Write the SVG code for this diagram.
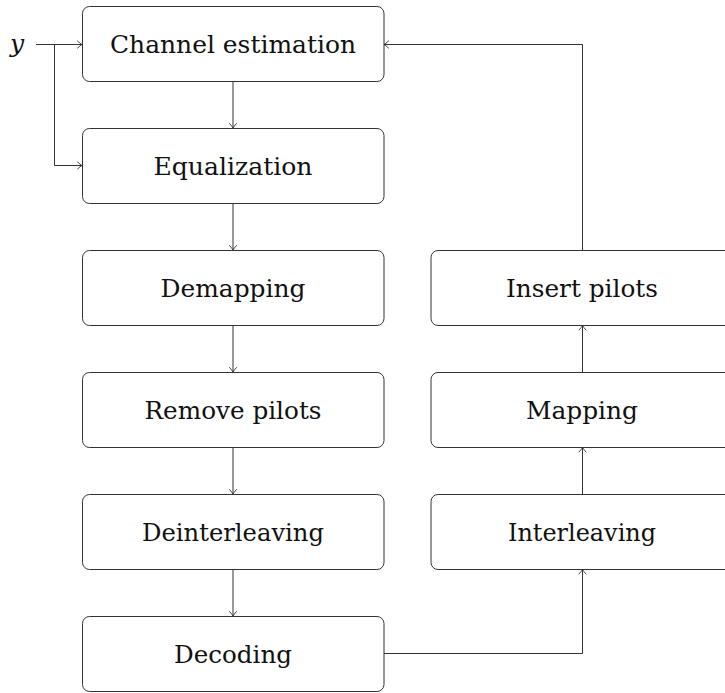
<svg xmlns="http://www.w3.org/2000/svg" width="725" height="693" viewBox="0 0 725 693">
<style>
.box{fill:#fff;stroke:#333;stroke-width:1}
.lbl{font-size:24.5px;fill:#111;text-anchor:middle}
.ity{font-size:25px;font-style:italic;fill:#111}
.con{fill:none;stroke:#333;stroke-width:1}
</style>
<defs>
<marker id="arr" markerUnits="userSpaceOnUse" markerWidth="10" markerHeight="10" viewBox="-6 -5 8 10" refX="0" refY="0" orient="auto">
<path d="M-4.5 -3.5 Q-1.5 -0.8 0 0 Q-1.5 0.8 -4.5 3.5" fill="none" stroke="#333" stroke-width="0.9" stroke-linecap="round"/>
</marker>
</defs>
<rect width="725" height="693" fill="#fff"/>
<g id="connectors">
<path class="con" d="M36 44.5 H82" marker-end="url(#arr)"/>
<path class="con" d="M54.5 44.5 V165.5 H82" marker-end="url(#arr)"/>
<path class="con" d="M233 81.5 V128" marker-end="url(#arr)"/>
<path class="con" d="M233 203.5 V250" marker-end="url(#arr)"/>
<path class="con" d="M233 325.5 V372" marker-end="url(#arr)"/>
<path class="con" d="M233 447.5 V494" marker-end="url(#arr)"/>
<path class="con" d="M233 569.5 V616" marker-end="url(#arr)"/>
<path class="con" d="M384 653.5 H582.5 V569.5" marker-end="url(#arr)"/>
<path class="con" d="M582.5 494 V447.5" marker-end="url(#arr)"/>
<path class="con" d="M582.5 372 V325.5" marker-end="url(#arr)"/>
<path class="con" d="M582.5 250 V44.5 H384" marker-end="url(#arr)"/>
</g>
<g font-family="DejaVu Serif, serif">
<g id="input">
<text class="ity" x="10" y="52">y</text>
</g>
<g id="channel-estimation">
<rect class="box" x="82.5" y="6.5" width="301.5" height="75" rx="7"/>
<text class="lbl" x="233" y="52.5" textLength="246" lengthAdjust="spacingAndGlyphs">Channel estimation</text>
</g>
<g id="equalization">
<rect class="box" x="82.5" y="128.5" width="301.5" height="75" rx="7"/>
<text class="lbl" x="233" y="174.5" textLength="159" lengthAdjust="spacingAndGlyphs">Equalization</text>
</g>
<g id="demapping">
<rect class="box" x="82.5" y="250.5" width="301.5" height="75" rx="7"/>
<text class="lbl" x="233" y="296.5" textLength="145" lengthAdjust="spacingAndGlyphs">Demapping</text>
</g>
<g id="remove-pilots">
<rect class="box" x="82.5" y="372.5" width="301.5" height="75" rx="7"/>
<text class="lbl" x="233" y="418.5" textLength="177" lengthAdjust="spacingAndGlyphs">Remove pilots</text>
</g>
<g id="deinterleaving">
<rect class="box" x="82.5" y="494.5" width="301.5" height="75" rx="7"/>
<text class="lbl" x="233" y="540.5" textLength="182" lengthAdjust="spacingAndGlyphs">Deinterleaving</text>
</g>
<g id="decoding">
<rect class="box" x="82.5" y="616.5" width="301.5" height="75" rx="7"/>
<text class="lbl" x="233" y="662.5" textLength="118" lengthAdjust="spacingAndGlyphs">Decoding</text>
</g>
<g id="insert-pilots">
<rect class="box" x="431" y="250.5" width="302" height="75" rx="7"/>
<text class="lbl" x="582" y="296.5" textLength="152" lengthAdjust="spacingAndGlyphs">Insert pilots</text>
</g>
<g id="mapping">
<rect class="box" x="431" y="372.5" width="302" height="75" rx="7"/>
<text class="lbl" x="582" y="418.5" textLength="112" lengthAdjust="spacingAndGlyphs">Mapping</text>
</g>
<g id="interleaving">
<rect class="box" x="431" y="494.5" width="302" height="75" rx="7"/>
<text class="lbl" x="582" y="540.5" textLength="148" lengthAdjust="spacingAndGlyphs">Interleaving</text>
</g>
</g>
</svg>
